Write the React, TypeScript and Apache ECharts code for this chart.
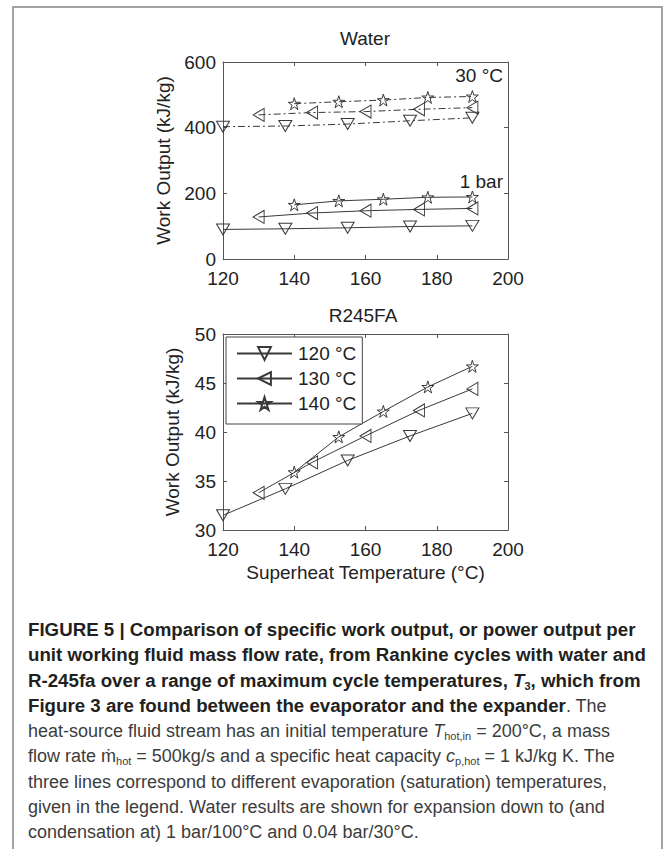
import React, { useEffect, useRef } from "react";
import * as echarts from "echarts";

// ---- data ----
const X_120 = [120, 137.5, 155, 172.5, 190];
const X_130 = [130, 145, 160, 175, 190];
const X_140 = [140, 152.5, 165, 177.5, 190];

const WATER_1BAR_120 = [90, 92, 95, 99, 101];
const WATER_1BAR_130 = [128, 140, 147, 151, 154];
const WATER_1BAR_140 = [165, 177, 182, 188, 189];

const WATER_30C_120 = [403, 405, 411, 421, 430];
const WATER_30C_130 = [439, 446, 449, 456, 461];
const WATER_30C_140 = [473, 479, 484, 492, 495];

const R245_120 = [31.5, 34.2, 37.1, 39.6, 41.9];
const R245_130 = [33.8, 36.9, 39.6, 42.2, 44.4];
const R245_140 = [35.9, 39.5, 42.1, 44.6, 46.7];

const LEGEND_NAMES = ["120 °C", "130 °C", "140 °C"];
const X_RANGE = { min: 120, max: 200, interval: 20 };
const WATER_Y = { min: 0, max: 600, interval: 200 };
const R245_Y = { min: 30, max: 50, interval: 5 };

// ---- styles ----
const LINE = "#3a3a3a";
const AXIS = "#555";
const TEXT = "#222";
const FONT = '"Liberation Sans", Arial, sans-serif';
const FS = 19;
const DASHDOT = [7, 3, 2, 3];

const STAR =
  "path://M50 0 L61.17 34.63 L97.55 34.55 L68.07 55.87 L79.39 90.45 L50 69 L20.61 90.45 L31.93 55.87 L2.45 34.55 L38.83 34.63 Z";

const DOWN = { symbol: "triangle", size: [13, 11], rotate: 180 };
const LEFT = { symbol: "triangle", size: [13, 11], rotate: 90 };
const STARS = { symbol: STAR, size: 12, rotate: 0 };

const pair = (xs: number[], ys: number[]) => xs.map((x, i) => [x, ys[i]]);

function lineSeries(
  name: string,
  xs: number[],
  ys: number[],
  g: number,
  sym: any,
  dashed: boolean
) {
  return {
    type: "line",
    name,
    xAxisIndex: g * 2,
    yAxisIndex: g * 2,
    data: pair(xs, ys),
    symbol: sym.symbol,
    symbolSize: sym.size,
    symbolRotate: sym.rotate,
    showAllSymbol: true,
    silent: true,
    lineStyle: { color: LINE, width: 1, type: dashed ? DASHDOT : "solid" },
    itemStyle: { color: "rgba(255,255,255,0)", borderColor: LINE, borderWidth: 1 },
    emphasis: { disabled: true },
  };
}

const labelStyle = { fontSize: FS, color: TEXT, fontFamily: FONT };

function axis(grid: number, pos: string, range: any, labels: boolean, margin: number, extra: any = {}) {
  return {
    type: "value",
    gridIndex: grid,
    position: pos,
    ...range,
    axisLine: { show: true, onZero: false, lineStyle: { color: AXIS, width: 1 } },
    axisTick: { show: true, inside: true, length: 4, lineStyle: { color: AXIS } },
    splitLine: { show: false },
    axisLabel: { show: labels, margin, ...labelStyle },
    ...extra,
  };
}

const option: any = {
  animation: false,
  grid: [
    { left: 223, top: 62, width: 285, height: 197 },
    { left: 223, top: 334, width: 285, height: 196 },
  ],
  xAxis: [
    axis(0, "bottom", X_RANGE, true, 10),
    axis(0, "top", X_RANGE, false, 8),
    axis(1, "bottom", X_RANGE, true, 10, {
      name: "Superheat Temperature (°C)",
      nameLocation: "middle",
      nameGap: 33,
      nameTextStyle: labelStyle,
    }),
    axis(1, "top", X_RANGE, false, 8),
  ],
  yAxis: [
    axis(0, "left", WATER_Y, true, 7, {
      name: "Work Output (kJ/kg)",
      nameLocation: "middle",
      nameRotate: 90,
      nameGap: 50,
      nameTextStyle: labelStyle,
    }),
    axis(0, "right", WATER_Y, false, 7),
    axis(1, "left", R245_Y, true, 7, {
      name: "Work Output (kJ/kg)",
      nameLocation: "middle",
      nameRotate: 90,
      nameGap: 41,
      nameTextStyle: labelStyle,
    }),
    axis(1, "right", R245_Y, false, 7),
  ],
  legend: {
    data: LEGEND_NAMES,
    orient: "vertical",
    left: 226,
    top: 337,
    padding: [7, 6, 11, 10],
    itemWidth: 55,
    itemHeight: 16,
    itemGap: 6,
    backgroundColor: "#fff",
    borderColor: "#444",
    borderWidth: 1,
    borderRadius: 0,
    selectedMode: false,
    textStyle: { ...labelStyle, lineHeight: 19, padding: [0, 0, 0, 1] },
  },
  series: [
    lineSeries("Water 1 bar 120", X_120, WATER_1BAR_120, 0, DOWN, false),
    lineSeries("Water 1 bar 130", X_130, WATER_1BAR_130, 0, LEFT, false),
    lineSeries("Water 1 bar 140", X_140, WATER_1BAR_140, 0, STARS, false),
    lineSeries("Water 30C 120", X_120, WATER_30C_120, 0, DOWN, true),
    lineSeries("Water 30C 130", X_130, WATER_30C_130, 0, LEFT, true),
    lineSeries("Water 30C 140", X_140, WATER_30C_140, 0, STARS, true),
    lineSeries(LEGEND_NAMES[0], X_120, R245_120, 1, DOWN, false),
    lineSeries(LEGEND_NAMES[1], X_130, R245_130, 1, LEFT, false),
    lineSeries(LEGEND_NAMES[2], X_140, R245_140, 1, STARS, false),
  ],
  graphic: [
    {
      type: "text",
      x: 365,
      y: 38,
      style: { text: "Water", fill: TEXT, font: `${FS}px ${FONT}`, textAlign: "center", textVerticalAlign: "middle" },
    },
    {
      type: "text",
      x: 363,
      y: 315,
      style: { text: "R245FA", fill: TEXT, font: `${FS}px ${FONT}`, textAlign: "center", textVerticalAlign: "middle" },
    },
    {
      type: "text",
      x: 503,
      y: 75,
      style: { text: "30 °C", fill: TEXT, font: `${FS}px ${FONT}`, textAlign: "right", textVerticalAlign: "middle" },
    },
    {
      type: "text",
      x: 503,
      y: 181,
      style: { text: "1 bar", fill: TEXT, font: `${FS}px ${FONT}`, textAlign: "right", textVerticalAlign: "middle" },
    },
  ],
};

const subStyle: React.CSSProperties = { fontSize: 11, verticalAlign: "-3px", lineHeight: 0 };
const bold: React.CSSProperties = { fontWeight: 700, color: "#231f20", fontSize: "18.7px" };

export default function App() {
  const ref = useRef<HTMLDivElement>(null);
  useEffect(() => {
    const chart = echarts.init(ref.current!, undefined, { renderer: "svg" });
    chart.setOption(option);
    return () => chart.dispose();
  }, []);
  return (
    <div
      style={{
        position: "fixed",
        left: 0,
        top: 0,
        width: 667,
        height: 849,
        overflow: "hidden",
        background: "#fff",
        fontFamily: FONT,
      }}
    >
      <div
        style={{
          position: "absolute",
          left: 12,
          top: 6,
          width: 651,
          height: 900,
          boxSizing: "border-box",
          border: "2px solid #a3a3a3",
        }}
      />
      <div ref={ref} style={{ position: "absolute", left: 0, top: 0, width: 667, height: 600 }} />
      <div
        style={{
          position: "absolute",
          left: 28,
          top: 617,
          fontSize: 18,
          lineHeight: "25.3px",
          color: "#3c3c3c",
          whiteSpace: "nowrap",
        }}
      >
        <div style={bold}>FIGURE 5 | Comparison of specific work output, or power output per</div>
        <div style={bold}>unit working fluid mass flow rate, from Rankine cycles with water and</div>
        <div style={bold}>
          R-245fa over a range of maximum cycle temperatures, <i>T</i>
          <span style={subStyle}>3</span>, which from
        </div>
        <div>
          <span style={bold}>Figure 3 are found between the evaporator and the expander</span>. The
        </div>
        <div>
          heat-source fluid stream has an initial temperature <i>T</i>
          <span style={subStyle}>hot,in</span> = 200°C, a mass
        </div>
        <div>
          flow rate ṁ<span style={subStyle}>hot</span> = 500kg/s and a specific heat capacity <i>c</i>
          <span style={subStyle}>p,hot</span> = 1 kJ/kg K. The
        </div>
        <div>three lines correspond to different evaporation (saturation) temperatures,</div>
        <div>given in the legend. Water results are shown for expansion down to (and</div>
        <div>condensation at) 1 bar/100°C and 0.04 bar/30°C.</div>
      </div>
    </div>
  );
}
